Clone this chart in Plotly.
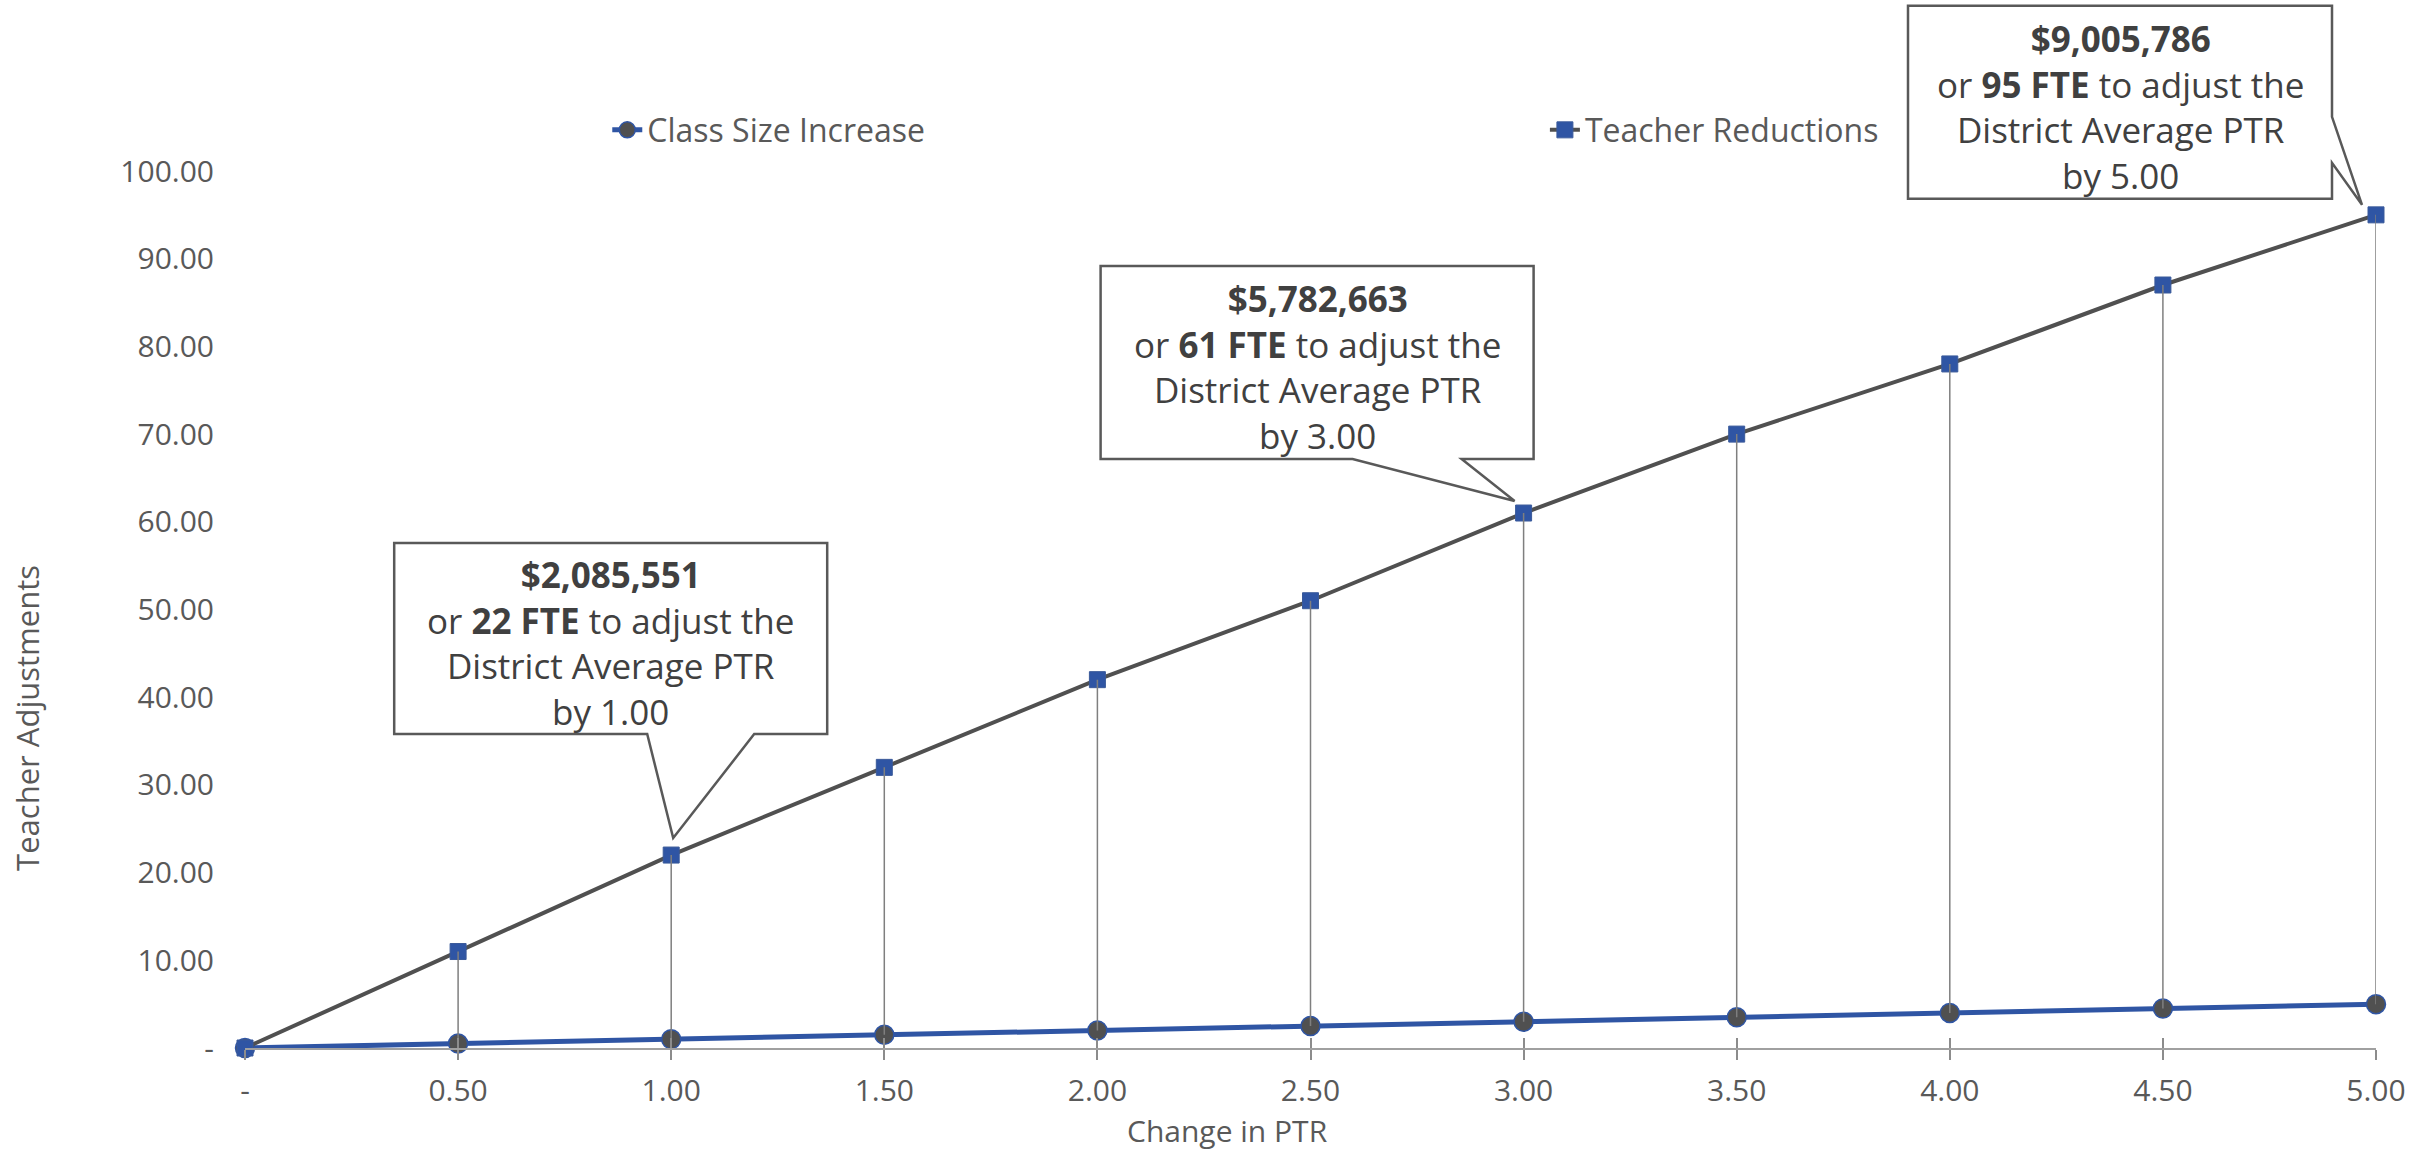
import plotly.graph_objects as go

# ---- data ----
ptr_change = [0.0, 0.5, 1.0, 1.5, 2.0, 2.5, 3.0, 3.5, 4.0, 4.5, 5.0]
x_tick_labels = ["-", "0.50", "1.00", "1.50", "2.00", "2.50", "3.00", "3.50", "4.00", "4.50", "5.00"]
class_size_increase = [0.0, 0.5, 1.0, 1.5, 2.0, 2.5, 3.0, 3.5, 4.0, 4.5, 5.0]
teacher_reductions = [0, 11, 22, 32, 42, 51, 61, 70, 78, 87, 95]
y_tick_values = [0, 10, 20, 30, 40, 50, 60, 70, 80, 90, 100]
y_tick_labels = ["-", "10.00", "20.00", "30.00", "40.00", "50.00", "60.00", "70.00", "80.00", "90.00", "100.00"]

callout_points = [1.0, 3.0, 5.0]
callout_costs = ["$2,085,551", "$5,782,663", "$9,005,786"]

X_RANGE = [0, 5]
Y_RANGE = [0, 100]

# ---- styling ----
FONT = "Open Sans"
TICK_COLOR = "#595959"
TEXT_COLOR = "#404040"
BLUE = "#2F55A4"
DARK = "#505050"

# callout balloon outlines, in pixels relative to the pointed-at marker (y up)
callout_paths = [
    "M -277,121 L -24,121 L 2,17 L 83,121 L 156,121 L 156,312 L -277,312 Z",
    "M -423,54 L -171,54 L -9,12 L -62,54 L 10,54 L 10,247 L -423,247 Z",
    "M -468,16 L -44,16 L -44,52 L -14,10 L -44,98 L -44,209 L -468,209 Z",
]
callout_text_shift = [(-61, 212), (-206, 146), (-256, 108)]

fig = go.Figure()

# high-low connectors between the two series
drop_x, drop_y = [], []
for x, lo, hi in zip(ptr_change, class_size_increase, teacher_reductions):
    if hi > lo:
        drop_x += [x, x, None]
        drop_y += [lo, hi, None]
fig.add_trace(go.Scatter(
    x=drop_x, y=drop_y, mode="lines", xaxis="x2",
    line=dict(color="#7f7f7f", width=1.5),
    showlegend=False, hoverinfo="skip", cliponaxis=False,
))

fig.add_trace(go.Scatter(
    x=ptr_change, y=class_size_increase, name="Class Size Increase",
    mode="lines+markers", cliponaxis=False, legend="legend",
    line=dict(color=BLUE, width=5),
    marker=dict(symbol="circle", size=19, color=DARK, line=dict(color=BLUE, width=1.5)),
))
fig.add_trace(go.Scatter(
    x=ptr_change, y=teacher_reductions, name="Teacher Reductions",
    mode="lines+markers", cliponaxis=False, legend="legend2",
    line=dict(color=DARK, width=4),
    marker=dict(symbol="square", size=16, color=BLUE, line=dict(color="#3a5a9a", width=1)),
))

shapes = []
annotations = []
for path, (dx, dy), px, cost in zip(callout_paths, callout_text_shift, callout_points, callout_costs):
    i = ptr_change.index(px)
    fte = teacher_reductions[i]
    ax_frac = (px - X_RANGE[0]) / (X_RANGE[1] - X_RANGE[0])
    ay_frac = (fte - Y_RANGE[0]) / (Y_RANGE[1] - Y_RANGE[0])
    shapes.append(dict(
        type="path", path=path, xref="paper", yref="paper",
        xsizemode="pixel", ysizemode="pixel", xanchor=ax_frac, yanchor=ay_frac,
        fillcolor="white", line=dict(color="#595959", width=2.5), layer="above",
    ))
    text = (f"<b>{cost}</b><br>or <b>{fte} FTE</b> to adjust the<br>"
            f"District Average PTR<br>by {px:.2f}")
    annotations.append(dict(
        x=ax_frac, y=ay_frac, xref="paper", yref="paper", text=text,
        showarrow=False, xshift=dx, yshift=dy, xanchor="center", yanchor="middle",
        align="center", font=dict(family=FONT, size=35, color=TEXT_COLOR),
    ))

annotations.append(dict(
    text="Teacher Adjustments", x=-0.102, y=0.376, xref="paper", yref="paper",
    textangle=-90, showarrow=False, xanchor="center", yanchor="middle",
    font=dict(family=FONT, size=31, color=TICK_COLOR),
))
annotations.append(dict(
    text="Change in PTR", x=0.461, y=-0.094, xref="paper", yref="paper",
    showarrow=False, xanchor="center", yanchor="middle",
    font=dict(family=FONT, size=30, color=TICK_COLOR),
))

legend_common = dict(
    orientation="h", y=1.0467, xanchor="left", yanchor="middle",
    font=dict(family=FONT, size=32, color=TICK_COLOR),
    bgcolor="rgba(0,0,0,0)",
)

fig.update_layout(
    width=2435, height=1153,
    margin=dict(l=245, r=59, t=171, b=105, autoexpand=False),
    paper_bgcolor="white", plot_bgcolor="white",
    font=dict(family=FONT, size=29, color=TICK_COLOR),
    shapes=shapes, annotations=annotations,
    showlegend=True,
    legend=dict(x=0.170, **legend_common),
    legend2=dict(x=0.610, **legend_common),
    xaxis=dict(
        range=X_RANGE, tickvals=ptr_change, ticktext=x_tick_labels,
        showline=True, linecolor="#a0a0a0", linewidth=2,
        ticks="outside", ticklen=10, tickwidth=1.5, tickcolor="#8c8c8c",
        showgrid=False, zeroline=False, ticklabelstandoff=5,
        tickfont=dict(family=FONT, size=30, color=TICK_COLOR),
    ),
    xaxis2=dict(
        matches="x", overlaying="x", anchor="y", range=X_RANGE,
        tickvals=ptr_change, ticks="inside", ticklen=10, tickwidth=1.5,
        tickcolor="#8c8c8c", showticklabels=False, showline=False,
        showgrid=False, zeroline=False,
    ),
    yaxis=dict(
        range=Y_RANGE, tickvals=y_tick_values, ticktext=y_tick_labels,
        showline=False, ticks="", showgrid=False, zeroline=False,
        ticklabelstandoff=30,
        tickfont=dict(family=FONT, size=30, color=TICK_COLOR),
    ),
)

fig.write_html("out.html")
